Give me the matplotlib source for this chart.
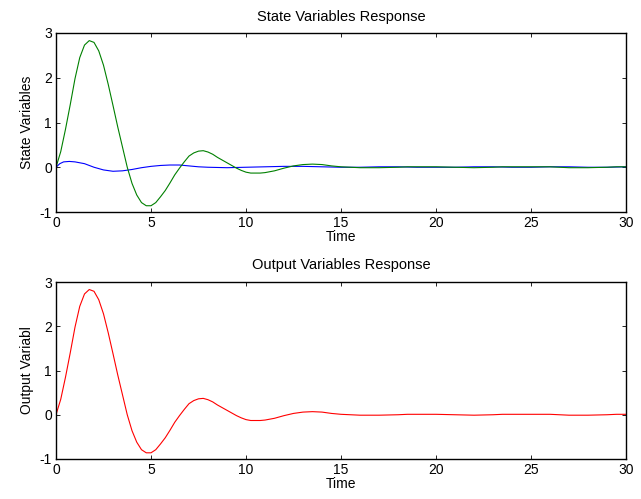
import matplotlib
matplotlib.use("Agg")
import matplotlib.pyplot as plt

plt.rcParams['font.family'] = ['Liberation Sans', 'DejaVu Sans']
plt.rcParams['axes.unicode_minus'] = False

# time samples and values
t_green = [0, 0.25, 0.5, 0.75, 1.0, 1.25, 1.5, 1.75, 2.0, 2.25, 2.5, 2.75, 3.0,
           3.25, 3.5, 3.75, 4.0, 4.25, 4.5, 4.75, 5.0, 5.25, 5.5, 5.75, 6.0,
           6.25, 6.5, 6.75, 7.0, 7.25, 7.5, 7.75, 8.0, 8.25, 8.5, 8.75, 9.0,
           9.25, 9.5, 9.75, 10.0, 10.25, 10.5, 10.75, 11.0, 11.25, 11.5, 11.75,
           12.0, 12.5, 13.0, 13.5, 14.0, 14.5, 15.0, 16.0, 17.0, 18.0, 18.5,
           19.0, 20.0, 21.0, 22.0, 23.0, 23.5, 24.0, 25.0, 26.0, 26.5, 27.0,
           28.0, 29.0, 29.5, 30.0]
x2 = [0.0, 0.35, 0.85, 1.4, 1.98, 2.45, 2.73, 2.83, 2.79, 2.6, 2.28, 1.85, 1.38,
      0.9, 0.45, 0.0, -0.36, -0.62, -0.79, -0.86, -0.86, -0.79, -0.66, -0.52,
      -0.35, -0.17, -0.02, 0.12, 0.25, 0.32, 0.36, 0.37, 0.34, 0.29, 0.22,
      0.16, 0.1, 0.04, -0.02, -0.07, -0.11, -0.13, -0.13, -0.13, -0.12, -0.1,
      -0.08, -0.05, -0.02, 0.03, 0.06, 0.07, 0.06, 0.03, 0.01, -0.01, -0.01,
      0.0, 0.01, 0.01, 0.01, 0.0, -0.01, 0.0, 0.01, 0.01, 0.01, 0.01, 0.0,
      -0.01, -0.01, 0.0, 0.01, 0.01]

t_blue = [0, 0.2, 0.4, 0.7, 1.0, 1.5, 2.0, 2.5, 3.0, 3.5, 4.0, 4.5, 5.0, 5.5,
          6.0, 6.5, 7.0, 7.5, 8.0, 9.0, 10.0, 11.0, 12.0, 13.0, 14.0, 15.0,
          16.0, 17.0, 18.0, 19.0, 20.0, 21.0, 22.0, 23.0, 24.0, 25.0, 26.0,
          27.0, 28.0, 29.0, 30.0]
x1 = [0.0, 0.08, 0.12, 0.13, 0.12, 0.08, 0.0, -0.06, -0.09, -0.08, -0.05,
      -0.01, 0.02, 0.04, 0.05, 0.05, 0.03, 0.01, 0.0, -0.01, 0.0, 0.01, 0.02,
      0.02, 0.01, 0.0, 0.0, 0.01, 0.01, 0.0, 0.0, 0.0, 0.01, 0.01, 0.0, 0.0,
      0.01, 0.01, 0.0, 0.0, 0.01]

# output equals the second state
y_out = x2

fig = plt.figure(figsize=(6.41, 4.99), dpi=100)
ax1 = fig.add_axes([56 / 641, 1 - 212 / 499, 570 / 641, 179 / 499])
ax2 = fig.add_axes([56 / 641, 1 - 459 / 499, 570 / 641, 177 / 499])

ax1.plot(t_blue, x1, color=(0, 0, 1), lw=0.8)
ax1.plot(t_green, x2, color=(0, 0.5, 0), lw=0.8)
ax2.plot(t_green, y_out, color=(1, 0, 0), lw=0.8)

for ax, title, ylab in [(ax1, 'State Variables Response', 'State Variables'),
                        (ax2, 'Output Variables Response', 'Output Variabl')]:
    ax.set_xlim(0, 30)
    ax.set_ylim(-1, 3)
    ax.set_xticks([0, 5, 10, 15, 20, 25, 30])
    ax.set_yticks([-1, 0, 1, 2, 3])
    ax.tick_params(direction='in', length=3, width=0.6, top=True, right=True,
                   labelsize=10, pad=3)
    for s in ax.spines.values():
        s.set_linewidth(1.0)
    ax.set_title(title, fontsize=10.5, pad=9)
    ax.set_ylabel(ylab, fontsize=10, labelpad=4)
    ax.set_xlabel('Time', fontsize=10, labelpad=0)

fig.savefig('out.png', dpi=100)
